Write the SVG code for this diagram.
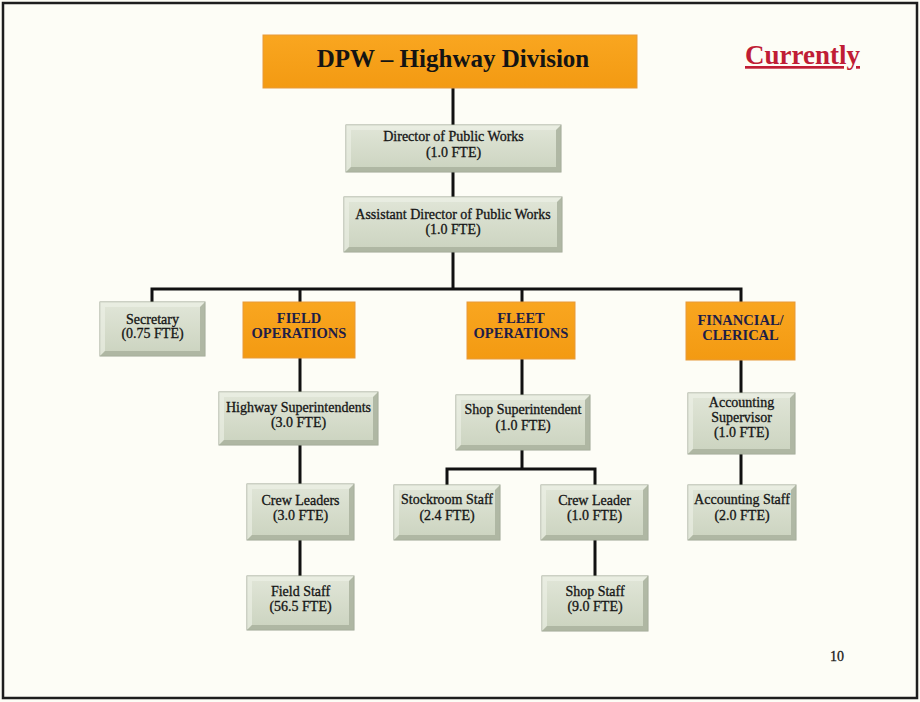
<svg xmlns="http://www.w3.org/2000/svg" width="920" height="702" viewBox="0 0 920 702">
<defs>
<linearGradient id="face" x1="0" y1="0" x2="0" y2="1">
<stop offset="0" stop-color="#e1e6d8"/>
<stop offset="1" stop-color="#cbd3bf"/>
</linearGradient>
<linearGradient id="orange" x1="0" y1="0" x2="0" y2="1">
<stop offset="0" stop-color="#f9a620"/>
<stop offset="1" stop-color="#f39a12"/>
</linearGradient>
</defs>
<style>
.bg{fill:#fdfdf6}
.frame{fill:none;stroke:#1e1e1e;stroke-width:2.5}
.face{fill:url(#face);stroke:#9ba392;stroke-width:1}
.hl{fill:#eef1e8;opacity:0.6}
.sh{fill:#a9b19e;opacity:0.85}
.org{fill:url(#orange);stroke:#e79a3a;stroke-width:1}
.conn{stroke:#111;stroke-width:3;fill:none}
.t{font-family:"Liberation Serif","Times New Roman",serif;font-size:14px;fill:#151515;stroke:#151515;stroke-width:0.3;text-anchor:middle}
.ot{font-family:"Liberation Serif","Times New Roman",serif;font-size:14.5px;font-weight:bold;fill:#1d1d48;text-anchor:middle}
.title{font-family:"Liberation Serif","Times New Roman",serif;font-size:25px;font-weight:bold;fill:#141414;text-anchor:middle}
.cur{font-family:"Liberation Serif","Times New Roman",serif;font-size:27px;font-weight:bold;fill:#c01d35;text-decoration:underline}
.pg{font-family:"Liberation Serif","Times New Roman",serif;font-size:14px;fill:#1a1a1a;stroke:#1a1a1a;stroke-width:0.3}
</style>
<rect class="bg" x="0" y="0" width="920" height="702"/>
<rect class="frame" x="3" y="3" width="914" height="695"/>

<g id="connectors">
<path class="conn" d="M453 88 V125"/>
<path class="conn" d="M453 172 V197"/>
<path class="conn" d="M453 252 V289"/>
<path class="conn" d="M152 302 V289 H741 V302"/>
<path class="conn" d="M300 289 V302"/>
<path class="conn" d="M522 289 V302"/>
<path class="conn" d="M300 358 V392"/>
<path class="conn" d="M300 445 V484"/>
<path class="conn" d="M300 540 V576"/>
<path class="conn" d="M522 359 V395"/>
<path class="conn" d="M522 450 V469"/>
<path class="conn" d="M447 485 V469 H595 V485"/>
<path class="conn" d="M595 540 V576"/>
<path class="conn" d="M741 360 V393"/>
<path class="conn" d="M741 454 V485"/>
</g>

<g id="title">
<rect class="org" x="263" y="35" width="374" height="53"/>
<text class="title" x="453" y="67">DPW – Highway Division</text>
</g>

<g id="currently">
<text class="cur" x="745" y="64">Currently</text>
</g>

<g id="director">
<rect class="face" x="346" y="125" width="215" height="47"/>
<path class="hl" d="M346 125 H561 L556 130 H351 V167 L346 172 Z"/>
<path class="sh" d="M561 125 V172 H346 L351 167 H556 V130 Z"/>
<text class="t" x="453.5" y="141">Director of Public Works</text>
<text class="t" x="453.5" y="157">(1.0 FTE)</text>
</g>

<g id="asst-director">
<rect class="face" x="344" y="197" width="218" height="55"/>
<path class="hl" d="M344 197 H562 L557 202 H349 V247 L344 252 Z"/>
<path class="sh" d="M562 197 V252 H344 L349 247 H557 V202 Z"/>
<text class="t" x="453" y="219">Assistant Director of Public Works</text>
<text class="t" x="453" y="234">(1.0 FTE)</text>
</g>

<g id="secretary">
<rect class="face" x="100" y="302" width="105" height="54"/>
<path class="hl" d="M100 302 H205 L200 307 H105 V351 L100 356 Z"/>
<path class="sh" d="M205 302 V356 H100 L105 351 H200 V307 Z"/>
<text class="t" x="152.5" y="324">Secretary</text>
<text class="t" x="152.5" y="338">(0.75 FTE)</text>
</g>

<g id="field-operations">
<rect class="org" x="243" y="302" width="112" height="56"/>
<text class="ot" x="299" y="323">FIELD</text>
<text class="ot" x="299" y="338">OPERATIONS</text>
</g>

<g id="fleet-operations">
<rect class="org" x="467" y="302" width="108" height="57"/>
<text class="ot" x="521" y="323">FLEET</text>
<text class="ot" x="521" y="338">OPERATIONS</text>
</g>

<g id="financial-clerical">
<rect class="org" x="686" y="302" width="109" height="58"/>
<text class="ot" x="740.5" y="325">FINANCIAL/</text>
<text class="ot" x="740.5" y="340">CLERICAL</text>
</g>

<g id="highway-superintendents">
<rect class="face" x="219" y="392" width="159" height="53"/>
<path class="hl" d="M219 392 H378 L373 397 H224 V440 L219 445 Z"/>
<path class="sh" d="M378 392 V445 H219 L224 440 H373 V397 Z"/>
<text class="t" x="298.5" y="412">Highway Superintendents</text>
<text class="t" x="298.5" y="427">(3.0 FTE)</text>
</g>

<g id="crew-leaders">
<rect class="face" x="247" y="484" width="107" height="56"/>
<path class="hl" d="M247 484 H354 L349 489 H252 V535 L247 540 Z"/>
<path class="sh" d="M354 484 V540 H247 L252 535 H349 V489 Z"/>
<text class="t" x="300.5" y="505">Crew Leaders</text>
<text class="t" x="300.5" y="520">(3.0 FTE)</text>
</g>

<g id="field-staff">
<rect class="face" x="247" y="576" width="107" height="54"/>
<path class="hl" d="M247 576 H354 L349 581 H252 V625 L247 630 Z"/>
<path class="sh" d="M354 576 V630 H247 L252 625 H349 V581 Z"/>
<text class="t" x="300.5" y="596">Field Staff</text>
<text class="t" x="300.5" y="611">(56.5 FTE)</text>
</g>

<g id="shop-superintendent">
<rect class="face" x="456" y="395" width="134" height="55"/>
<path class="hl" d="M456 395 H590 L585 400 H461 V445 L456 450 Z"/>
<path class="sh" d="M590 395 V450 H456 L461 445 H585 V400 Z"/>
<text class="t" x="523" y="414">Shop Superintendent</text>
<text class="t" x="523" y="430">(1.0 FTE)</text>
</g>

<g id="stockroom-staff">
<rect class="face" x="394" y="485" width="106" height="55"/>
<path class="hl" d="M394 485 H500 L495 490 H399 V535 L394 540 Z"/>
<path class="sh" d="M500 485 V540 H394 L399 535 H495 V490 Z"/>
<text class="t" x="447" y="504">Stockroom Staff</text>
<text class="t" x="447" y="520">(2.4 FTE)</text>
</g>

<g id="crew-leader">
<rect class="face" x="541" y="485" width="107" height="55"/>
<path class="hl" d="M541 485 H648 L643 490 H546 V535 L541 540 Z"/>
<path class="sh" d="M648 485 V540 H541 L546 535 H643 V490 Z"/>
<text class="t" x="594.5" y="505">Crew Leader</text>
<text class="t" x="594.5" y="520">(1.0 FTE)</text>
</g>

<g id="shop-staff">
<rect class="face" x="542" y="576" width="106" height="55"/>
<path class="hl" d="M542 576 H648 L643 581 H547 V626 L542 631 Z"/>
<path class="sh" d="M648 576 V631 H542 L547 626 H643 V581 Z"/>
<text class="t" x="595" y="596">Shop Staff</text>
<text class="t" x="595" y="611">(9.0 FTE)</text>
</g>

<g id="accounting-supervisor">
<rect class="face" x="688" y="393" width="107" height="61"/>
<path class="hl" d="M688 393 H795 L790 398 H693 V449 L688 454 Z"/>
<path class="sh" d="M795 393 V454 H688 L693 449 H790 V398 Z"/>
<text class="t" x="741.5" y="407">Accounting</text>
<text class="t" x="741.5" y="422">Supervisor</text>
<text class="t" x="741.5" y="437">(1.0 FTE)</text>
</g>

<g id="accounting-staff">
<rect class="face" x="688" y="485" width="108" height="55"/>
<path class="hl" d="M688 485 H796 L791 490 H693 V535 L688 540 Z"/>
<path class="sh" d="M796 485 V540 H688 L693 535 H791 V490 Z"/>
<text class="t" x="742" y="504">Accounting Staff</text>
<text class="t" x="742" y="520">(2.0 FTE)</text>
</g>

<text class="pg" x="830" y="661">10</text>
</svg>
